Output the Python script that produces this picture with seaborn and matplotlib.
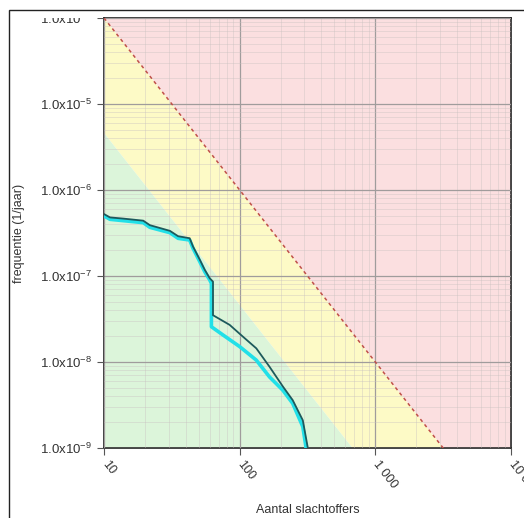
import numpy as np
import pandas as pd
import matplotlib.pyplot as plt
import seaborn as sns
from matplotlib.patches import Rectangle

sns.set_style("ticks")
plt.rcParams['font.family'] = ['Liberation Sans', 'DejaVu Sans']

# grenswaarden (lijnen met helling -2)
limit_x = [10, 10000]
oriented_y = [1e-4, 1e-10]     # rode stippellijn
green_y = [4.6e-6, 4.6e-12]    # grens geel / groen

# FN-curve (cyaan)
fn_x = [10, 11.07, 13.86, 19.46, 21.78, 30.6, 35.2, 42.8, 45.3, 50.8, 55.3, 60.2, 61.9,
        61.9, 75.4, 100, 132.7, 166, 208, 246, 292, 309]
fn_y = [5.0e-7, 4.56e-7, 4.4e-7, 4.17e-7, 3.68e-7, 3.19e-7, 2.74e-7, 2.62e-7, 2.1e-7,
        1.47e-7, 1.12e-7, 8.98e-8, 8.2e-8,
        2.57e-8, 2.06e-8, 1.51e-8, 1.05e-8, 6.7e-9, 4.7e-9, 3.3e-9, 1.77e-9, 1.0e-9]

# FN-curve (donker)
fn2_x = [10, 11.07, 13.86, 19.46, 21.78, 30.6, 35.2, 42.8, 45.3, 50.8, 55.3, 60.2, 63.6,
         63.6, 84.4, 105.7, 132.7, 166, 208, 246, 292, 318]
fn2_y = [5.25e-7, 4.8e-7, 4.65e-7, 4.4e-7, 3.9e-7, 3.35e-7, 2.9e-7, 2.75e-7, 2.2e-7,
         1.55e-7, 1.18e-7, 9.4e-8, 8.6e-8,
         3.5e-8, 2.7e-8, 1.97e-8, 1.44e-8, 8.8e-9, 5.2e-9, 3.6e-9, 2.1e-9, 1.0e-9]

xticks = [10, 100, 1000, 10000]
xlabels = ["10", "100", "1 000", "10 000"]
yticks = [1e-9, 1e-8, 1e-7, 1e-6, 1e-5, 1e-4]
ylabels = [r"1.0x10$^{\mathregular{%d}}$" % int(np.log10(v)) for v in yticks]

W, H = 524, 518
fig = plt.figure(figsize=(W / 100, H / 100), dpi=100)
ax = fig.add_axes([104 / W, 1 - 448 / H, (511 - 104) / W, (448 - 18) / H])
ax.set_xscale("log")
ax.set_yscale("log")

# achtergrondzones
ax.fill_between(limit_x, oriented_y, 1, color="#fbdfe0", lw=0, zorder=0)
ax.fill_between(limit_x, green_y, oriented_y, color="#fdfac6", lw=0, zorder=0)
ax.fill_between(limit_x, 1e-14, green_y, color="#dcf5da", lw=0, zorder=0)

ax.grid(True, which="major", color="#a09c9c", lw=0.9, zorder=1)
ax.grid(True, which="minor", color="#c8c0c0", lw=0.6, alpha=0.45, zorder=1)
ax.set_axisbelow(False)

ref = pd.DataFrame({"x": limit_x, "y": oriented_y})
sns.lineplot(data=ref, x="x", y="y", ax=ax, color="#c0504a", lw=1.1,
             linestyle=(0, (2.2, 2.2)), estimator=None, sort=False, zorder=3)

cur = pd.DataFrame({"x": fn_x, "y": fn_y})
sns.lineplot(data=cur, x="x", y="y", ax=ax, color="#22e0e8", lw=2.6,
             estimator=None, sort=False, zorder=4)
cur2 = pd.DataFrame({"x": fn2_x, "y": fn2_y})
sns.lineplot(data=cur2, x="x", y="y", ax=ax, color="#1d5a5c", lw=1.3,
             estimator=None, sort=False, zorder=5)

ax.set_xlim(10, 10000)
ax.set_ylim(1e-9, 1e-4)
ax.set_xticks(xticks)
ax.set_xticklabels(xlabels, rotation=-52, ha="left", va="center",
                   rotation_mode="anchor", fontsize=9, color="#333333")
ax.set_yticks(yticks)
ax.set_yticklabels(ylabels, fontsize=9.5, color="#333333")
ax.tick_params(which="minor", length=0)
ax.tick_params(which="major", length=5, width=0.8, color="#555555")
ax.tick_params(axis="x", pad=5)
for s in ax.spines.values():
    s.set_color("#222222")
    s.set_linewidth(1.2)

ax.set_xlabel("Aantal slachtoffers", fontsize=9, color="#333333")
ax.set_ylabel("frequentie (1/jaar)", fontsize=9, color="#333333")
ax.xaxis.set_label_coords(0.5, -0.13)
ax.yaxis.set_label_coords(-0.195, 0.5)

# witte afdekking bovenaan en omlijsting
fig.add_artist(Rectangle((9 / W, 1 - 17.5 / H), 94 / W, 8 / H, transform=fig.transFigure,
                         facecolor="white", edgecolor="none", zorder=10))
fig.add_artist(Rectangle((9 / W, -0.1), 1.2, 1 - 10 / H + 0.1, transform=fig.transFigure,
                         facecolor="none", edgecolor="#222222", lw=1.0, zorder=11))

fig.savefig("out.png", dpi=100)
